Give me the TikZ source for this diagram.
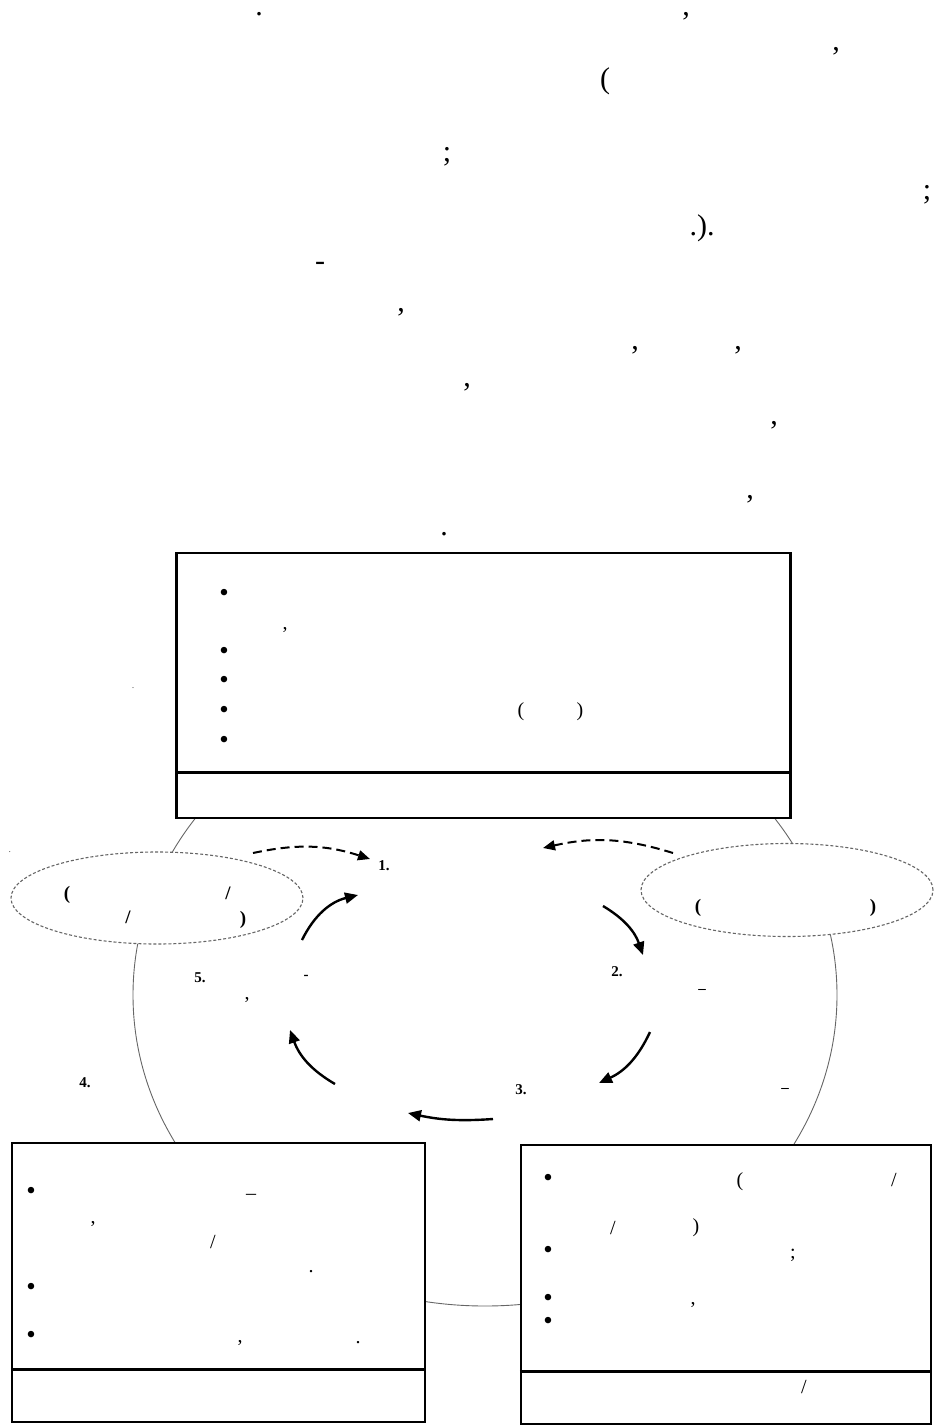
\documentclass[tikz,border=0pt]{standalone}
\usepackage{fontspec}
\setmainfont{Liberation Serif}
\usetikzlibrary{arrows.meta,shapes.geometric}
\newcommand\fsz[1]{\fontsize{#1}{#1}\selectfont}
\begin{document}
\begin{tikzpicture}[x=1pt,y=-1pt,
  ptxt/.style={inner sep=0,font=\fsz{30}},
  boxtxt/.style={inner sep=0,font=\fsz{20}},
  bul/.style={inner sep=0,font=\fsz{27}},
  elltxt/.style={inner sep=0,font=\bfseries\fsz{19}},
  numtxt/.style={inner sep=0,font=\bfseries\fsz{15}},
  tinydot/.style={inner sep=0,font=\fsz{8}},
  panel/.style={draw,line width=2.2pt,fill=white,inner sep=0},
  divider/.style={line width=3pt},
  cloud/.style={ellipse,draw=black!60,dash pattern=on 3pt off 2pt,line width=1.1pt,fill=white,inner sep=0},
  flow/.style={line width=2.4pt,-{Triangle[length=13pt,width=11pt]}},
  flowd/.style={line width=2pt,dash pattern=on 9pt off 5pt,-{Triangle[length=12pt,width=10pt]}}
]
\useasboundingbox (0,0) rectangle (941,1426);
% big background ring
\draw[black!60,line width=0.9pt] (485,995) ellipse [x radius=352,y radius=311];

% top paragraph punctuation
\node[ptxt] (q1) at (259,14) {.};
\node[ptxt] (q2) at (686,16) {,};
\node[ptxt] (q3) at (836,51) {,};
\node[ptxt] (q4) at (605,81) {(};
\node[ptxt] (q5) at (447,157) {;};
\node[ptxt] (q6) at (927,195) {;};
\node[ptxt] (q7) at (702,228) {.).};
\node[ptxt] (q8) at (320,266) {-};
\node[ptxt] (q9) at (401,312) {,};
\node[ptxt] (q10) at (635,350) {,};
\node[ptxt] (q11) at (738,350) {,};
\node[ptxt] (q12) at (467,387) {,};
\node[ptxt] (q13) at (774,425) {,};
\node[ptxt] (q14) at (750,499) {,};
\node[ptxt] (q15) at (444,534) {.};

% top panel
\node[panel,minimum width=614pt,minimum height=265pt] (topbox) at (483.5,685.5) {};
\draw[divider] (topbox.west |- 0,772) -- (topbox.east |- 0,772);
\foreach \yy [count=\i] in {595,653,682,712,742}
  \node[bul] (tb\i) at (224,\yy) {\textbullet};
\node[boxtxt] (tc1) at (285,630) {,};
\node[boxtxt] (tc2) at (521,712) {(};
\node[boxtxt] (tc3) at (580,712) {)};
\node[tinydot] (d1) at (133,688) {.};
\node[tinydot] (d2) at (10,852) {.};

% bottom panels
\node[panel,minimum width=413pt,minimum height=279pt] (lbox) at (218.5,1282.5) {};
\draw[divider] (lbox.west |- 0,1369) -- (lbox.east |- 0,1369);
\node[panel,minimum width=410pt,minimum height=279pt] (rbox) at (726,1284.5) {};
\draw[divider] (rbox.west |- 0,1371) -- (rbox.east |- 0,1371);

\foreach \yy [count=\i] in {1193,1289,1337}
  \node[bul] (lb\i) at (31,\yy) {\textbullet};
\node[boxtxt] (lc1) at (251,1197) {–};
\node[boxtxt] (lc2) at (93,1224) {,};
\node[boxtxt] (lc3) at (213,1242) {/};
\node[boxtxt] (lc4) at (311,1272) {.};
\node[boxtxt] (lc5) at (240,1343) {,};
\node[boxtxt] (lc6) at (358,1343) {.};

\foreach \yy [count=\i] in {1180,1252,1300,1323}
  \node[bul] (rb\i) at (548,\yy) {\textbullet};
\node[boxtxt] (rc1) at (740,1182) {(};
\node[boxtxt] (rc2) at (894,1180) {/};
\node[boxtxt] (rc3) at (613,1228) {/};
\node[boxtxt] (rc4) at (696,1228) {)};
\node[boxtxt] (rc5) at (793,1255) {;};
\node[boxtxt] (rc6) at (693,1305) {,};
\node[boxtxt] (rc7) at (804,1387) {/};

% dashed clouds
\node[cloud,minimum width=292pt,minimum height=92pt] (lcloud) at (157,898) {};
\node[cloud,minimum width=292pt,minimum height=93pt] (rcloud) at (787,890) {};
\node[elltxt] (e1) at (67,895) {(};
\node[elltxt] (e2) at (228,893) {/};
\node[elltxt] (e3) at (128,917) {/};
\node[elltxt] (e4) at (243,920) {)};
\node[elltxt] (e5) at (698,908) {(};
\node[elltxt] (e6) at (873,908) {)};

% cycle labels
\node[numtxt] (n1) at (384,866) {1.};
\node[numtxt] (n2) at (617,972) {2.};
\node[numtxt] (n2b) at (702,991) {–};
\node[numtxt] (n3) at (521,1090) {3.};
\node[numtxt] (n3b) at (785,1090) {–};
\node[numtxt] (n4) at (85,1083) {4.};
\node[numtxt] (n5) at (200,978) {5.};
\node[numtxt] (n5b) at (306,977) {-};
\node[boxtxt] (n5c) at (247,1000) {,};

% arrows
\coordinate (a1s) at (302,940); \coordinate (a1e) at (358,895);
\coordinate (a2s) at (603,906); \coordinate (a2e) at (643,955);
\coordinate (a3s) at (650,1032); \coordinate (a3e) at (599,1083);
\coordinate (a4s) at (493,1119); \coordinate (a4e) at (408,1113);
\coordinate (a5s) at (335,1084); \coordinate (a5e) at (290,1030);
\coordinate (b1s) at (253,853); \coordinate (b1e) at (370,859);
\coordinate (b2s) at (673,853); \coordinate (b2e) at (543,848);
\draw[flow] (a1s) to[bend left=25] (a1e);
\draw[flow] (a2s) to[bend left=20] (a2e);
\draw[flow] (a3s) to[bend left=20] (a3e);
\draw[flow] (a4s) to[bend left=8] (a4e);
\draw[flow] (a5s) to[bend left=20] (a5e);
\draw[flowd] (b1s) to[bend left=15] (b1e);
\draw[flowd] (b2s) to[bend right=15] (b2e);
\end{tikzpicture}
\end{document}
